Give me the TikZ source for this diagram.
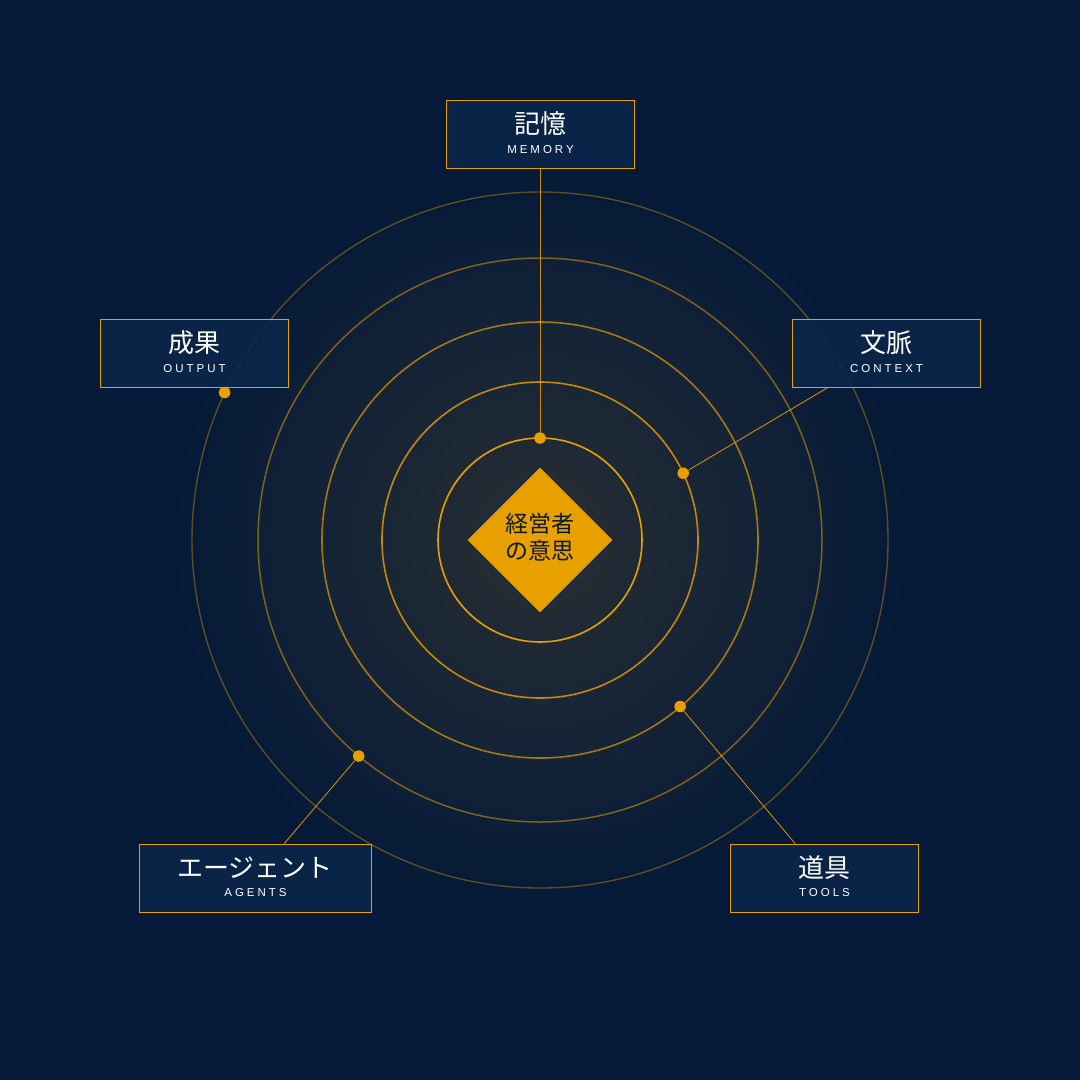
\documentclass[tikz,border=0pt]{standalone}
\usepackage{fontspec}
\setmainfont{Liberation Sans}
\newfontfamily\jpfont{Noto Sans CJK JP}
\newfontfamily\enfont[LetterSpace=26]{Liberation Sans}
\usetikzlibrary{shapes.geometric}
\definecolor{bg}{HTML}{051A38}
\definecolor{gold}{HTML}{E8A000}
\definecolor{glowc}{HTML}{292F33}
\definecolor{boxfill}{HTML}{0B2649}
\definecolor{ink}{HTML}{0B1A30}
\tikzset{
  ring/.style={draw=gold, line width=1.6pt},
  conn/.style={draw=gold, line width=0.9pt, draw opacity=0.85},
  dotnode/.style={circle, fill=gold, minimum size=11.5pt, inner sep=0pt},
  labelbox/.style={rectangle, draw=gold, line width=1pt, fill=boxfill, fill opacity=0.9, minimum height=68pt, inner sep=0pt},
  jplabel/.style={text=white, font=\jpfont\fontsize{26}{30}\selectfont, inner sep=0pt},
  enlabel/.style={text=white, font=\enfont\fontsize{11.5}{13}\selectfont, inner sep=0pt},
}
\begin{document}
\begin{tikzpicture}[x=1pt,y=-1pt]
  \fill[bg] (0,0) rectangle (1080,1080);
  \useasboundingbox (0,0) rectangle (1080,1080);
  \coordinate (c) at (540,540);
  % glow
  \shade[inner color=glowc, outer color=bg] (c) circle (370);
  % rings
  \draw[ring, draw opacity=0.38, line width=1.4pt] (c) circle (348);
  \draw[ring, draw opacity=0.52, line width=1.5pt] (c) circle (282);
  \draw[ring, draw opacity=0.68] (c) circle (218);
  \draw[ring, draw opacity=0.82] (c) circle (158);
  \draw[ring, draw opacity=1] (c) circle (102);
  % label boxes
  \node[labelbox, minimum width=188pt] (mem) at (540,134) {};
  \node[labelbox, minimum width=188pt] (out) at (194,353) {};
  \node[labelbox, minimum width=188pt] (ctx) at (886,353) {};
  \node[labelbox, minimum width=232pt] (agt) at (255,878) {};
  \node[labelbox, minimum width=188pt] (tls) at (824,878) {};
  % dots
  \node[dotnode] (dm) at (540,438) {};
  \node[dotnode] (dc) at (683.2,473.2) {};
  \node[dotnode] (dt) at (680.1,706.5) {};
  \node[dotnode] (da) at (358.7,756) {};
  \node[dotnode] (do) at (224.6,392.5) {};
  % connectors
  \draw[conn] (dm) -- (mem);
  \draw[conn] (dc) -- (ctx);
  \draw[conn] (dt) -- (tls);
  \draw[conn] (da) -- (agt);
  \draw[conn] (do) -- (out);
  % core diamond
  \node[diamond, fill=gold, minimum width=145pt, minimum height=145pt, inner sep=0pt] (core) at (c) {};
  \node[text=ink, align=center, inner sep=0pt, font=\jpfont\fontsize{23}{27}\selectfont] (coretext) at (540,537.5) {経営者\\の意思};
  % texts
  \node[jplabel] (memj) at (540,124) {記憶};
  \node[enlabel] (mene) at (540.5,149.5) {MEMORY};
  \node[jplabel] (outj) at (194,343) {成果};
  \node[enlabel] (oute) at (194.5,368.5) {OUTPUT};
  \node[jplabel] (ctxj) at (886,343) {文脈};
  \node[enlabel] (ctxe) at (886.5,368.5) {CONTEXT};
  \node[jplabel] (agtj) at (255,868) {エージェント};
  \node[enlabel] (agte) at (255.5,893) {AGENTS};
  \node[jplabel] (tlsj) at (824,868) {道具};
  \node[enlabel] (tlse) at (824.5,893) {TOOLS};
\end{tikzpicture}
\end{document}
